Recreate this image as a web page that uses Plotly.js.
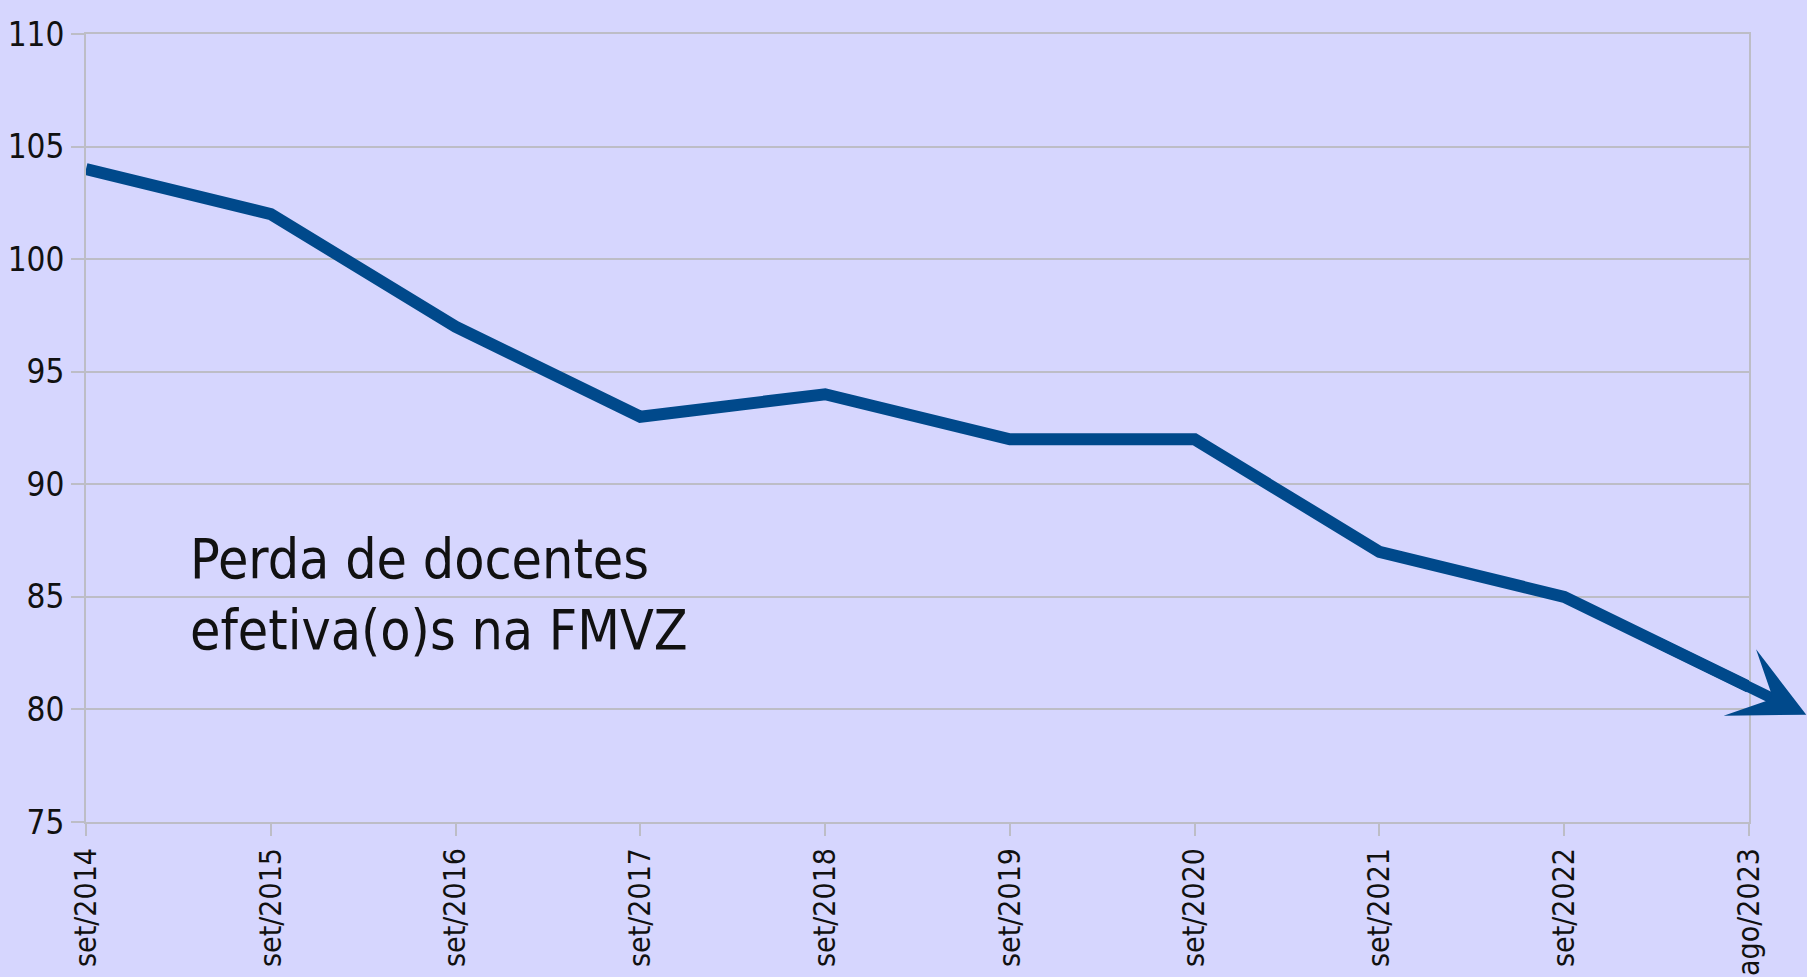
<!DOCTYPE html>
<html>
<head>
<meta charset="utf-8">
<script src="https://cdn.plot.ly/plotly-3.0.1.min.js"></script>
<style>
  html, body { margin: 0; padding: 0; background: #D6D6FE; }
  #chart { width: 1807px; height: 977px; }
</style>
</head>
<body>
<div id="chart"></div>
<script>
// ---- data ----
const periods = ['set/2014','set/2015','set/2016','set/2017','set/2018','set/2019','set/2020','set/2021','set/2022','ago/2023'];
const docentes = [104, 102, 97, 93, 94, 92, 92, 87, 85, 81];
const yTicks = [75, 80, 85, 90, 95, 100, 105, 110];
const noteLines = ['Perda de docentes', 'efetiva(o)s na FMVZ'];

// ---- style ----
const FONT = "'DejaVu Sans Condensed', 'Liberation Sans Narrow', 'Roboto', sans-serif";
const BG = '#D6D6FE';
const LINE = '#00498B';
const GRID = '#BDBDC6';

const idx = periods.map((_, i) => i);
const n = docentes.length;
// arrow continues the direction of the last segment a little beyond the last point
const ext = 0.31;
const lastX = n - 1, lastY = docentes[n - 1];
const prevY = docentes[n - 2];
const headX = lastX + ext;
const headY = lastY + ext * (lastY - prevY);
const tailX = lastX - 0.5;
const tailY = (lastY + prevY) / 2;

const trace = {
  x: idx,
  y: docentes,
  type: 'scatter',
  mode: 'lines',
  line: { color: LINE, width: 12, shape: 'linear' },
  hoverinfo: 'x+y'
};

const annotations = [
  {
    xref: 'x', yref: 'y', axref: 'x', ayref: 'y',
    x: headX, y: headY, ax: tailX, ay: tailY,
    text: '', showarrow: true,
    arrowhead: 3, arrowsize: 1.12, arrowwidth: 11, arrowcolor: LINE,
    font: { size: 1 }
  },
  {
    xref: 'paper', yref: 'paper', x: 0.0613, y: 0.334,
    xanchor: 'left', yanchor: 'middle', showarrow: false,
    text: noteLines[0], font: { family: FONT, size: 55, color: '#111111' }
  },
  {
    xref: 'paper', yref: 'paper', x: 0.0613, y: 0.244,
    xanchor: 'left', yanchor: 'middle', showarrow: false,
    text: noteLines[1], font: { family: FONT, size: 55, color: '#111111' }
  }
];

const layout = {
  width: 1807, height: 977,
  margin: { l: 86, r: 58, t: 34, b: 155, pad: 0 },
  paper_bgcolor: BG,
  plot_bgcolor: BG,
  showlegend: false,
  font: { family: FONT, color: '#111111' },
  xaxis: {
    type: 'linear',
    range: [0, n - 1],
    tickmode: 'array',
    tickvals: idx,
    ticktext: periods,
    tickangle: -90,
    tickfont: { family: FONT, size: 30, color: '#111111' },
    ticks: 'outside', ticklen: 12, tickwidth: 2, tickcolor: GRID,
    showgrid: false, zeroline: false,
    showline: true, linecolor: GRID, linewidth: 2, mirror: true,
    fixedrange: true
  },
  yaxis: {
    range: [75, 110],
    tickmode: 'array',
    tickvals: yTicks,
    ticktext: yTicks.map(String),
    tickfont: { family: FONT, size: 33, color: '#111111' },
    ticks: 'outside', ticklen: 13, tickwidth: 2, tickcolor: GRID,
    showgrid: true, gridcolor: GRID, gridwidth: 2,
    zeroline: false,
    showline: true, linecolor: GRID, linewidth: 2, mirror: true,
    fixedrange: true
  },
  annotations: annotations
};

Plotly.newPlot('chart', [trace], layout, { displayModeBar: false, staticPlot: true });
</script>
</body>
</html>
